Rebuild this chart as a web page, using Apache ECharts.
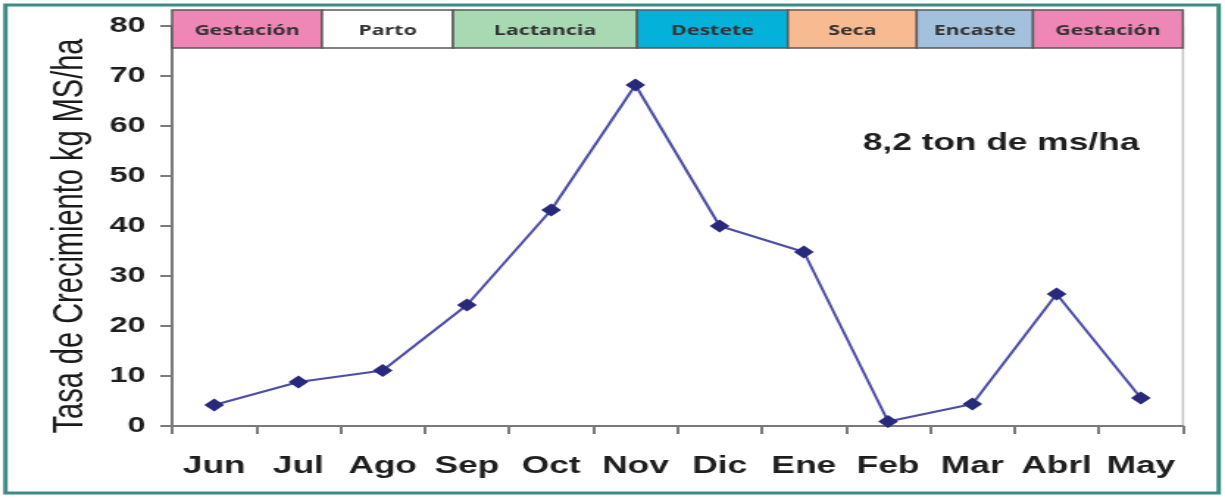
<!DOCTYPE html>
<html>
<head>
<meta charset="utf-8">
<title>Tasa de Crecimiento</title>
<script src="https://cdn.jsdelivr.net/npm/echarts@6/dist/echarts.min.js"></script>
<style>
  html, body { margin: 0; padding: 0; background: #ffffff; overflow: hidden; }
  #wrap { width: 1225px; height: 500px; overflow: hidden; }
  /* the chart is laid out narrow and widened, giving the broad lettering and wide markers */
  #chart { width: 833px; height: 500px; transform: scaleX(1.4706); transform-origin: 0 0; }
</style>
</head>
<body>
<div id="wrap"><div id="chart"></div></div>
<script>
// Months of the grazing year and growth rate (kg MS/ha/day)
const months = ['Jun', 'Jul', 'Ago', 'Sep', 'Oct', 'Nov', 'Dic', 'Ene', 'Feb', 'Mar', 'Abrl', 'May'];
const growthRate = [4.2, 8.8, 11.1, 24.2, 43.2, 68.2, 40.0, 34.8, 0.9, 4.4, 26.4, 5.6];

// Y axis ticks
const yMin = 0, yMax = 80, yStep = 10;

// Herd phases along the year, edges in months counted from the start of June
const phaseNames = ['Gestación', 'Parto', 'Lactancia', 'Destete', 'Seca', 'Encaste', 'Gestación'];
const phaseEdges = [0, 1.78, 3.335, 5.52, 7.31, 8.84, 10.22, 12];

const yTitle = 'Tasa de Crecimiento kg MS/ha';
const note = '8,2 ton de ms/ha';

// styling
const phaseColors = ['#ef87b6', '#ffffff', '#a9d9b3', '#03b1d9', '#f8bb91', '#a3c1dc', '#ef87b6'];
const FONT = '"Liberation Sans", Arial, sans-serif';
const BAND_FONT = '"Open Sans", "Liberation Sans", sans-serif';

const phaseData = phaseNames.map((n, i) => [phaseEdges[i], phaseEdges[i + 1], i]);

const chart = echarts.init(document.getElementById('chart'), null, { renderer: 'canvas' });

chart.setOption({
  backgroundColor: '#ffffff',
  animation: false,
  grid: [
    { left: 117, right: 28.6, top: 26, bottom: 74, show: true, borderColor: '#c4c4c4', borderWidth: 1.5, backgroundColor: 'transparent' },
    { left: 117, right: 28.6, top: 10, height: 38 }
  ],
  xAxis: [
    {
      type: 'category', gridIndex: 0, data: months, boundaryGap: true,
      axisLine: { show: true, lineStyle: { color: '#7a7a7a', width: 2 } },
      axisTick: { show: true, inside: false, interval: 0, length: 8, alignWithLabel: false, lineStyle: { color: '#7a7a7a', width: 2 } },
      axisLabel: { interval: 0, hideOverlap: false, fontFamily: FONT, fontSize: 24, fontWeight: 'bold', color: '#1e1e1e', margin: 28 },
      splitLine: { show: false }
    },
    { type: 'value', gridIndex: 1, min: 0, max: 12, show: false }
  ],
  yAxis: [
    {
      type: 'value', gridIndex: 0, min: yMin, max: yMax, interval: yStep,
      axisLine: { show: true, lineStyle: { color: '#7a7a7a', width: 2 } },
      axisTick: { show: true, inside: false, length: 8, lineStyle: { color: '#7a7a7a', width: 2 } },
      axisLabel: { fontFamily: FONT, fontSize: 22, fontWeight: 'bold', color: '#1e1e1e', margin: 18 },
      splitLine: { show: false }
    },
    { type: 'value', gridIndex: 1, min: 0, max: 1, show: false }
  ],
  series: [
    {
      type: 'line', xAxisIndex: 0, yAxisIndex: 0, data: growthRate,
      symbol: 'diamond', symbolSize: [13.5, 13], showAllSymbol: true,
      lineStyle: { color: '#4d4da8', width: 2 },
      itemStyle: { color: '#29297c', borderWidth: 0 },
      z: 5
    },
    {
      type: 'custom', xAxisIndex: 1, yAxisIndex: 1, data: phaseData,
      encode: { x: [0, 1] },
      z: 10,
      renderItem: function (params, api) {
        const x0 = api.coord([api.value(0), 0])[0];
        const x1 = api.coord([api.value(1), 0])[0];
        const idx = api.value(2);
        const cs = params.coordSys;
        return {
          type: 'group',
          children: [
            {
              type: 'rect',
              shape: { x: x0, y: cs.y, width: x1 - x0, height: cs.height },
              style: { fill: phaseColors[idx], stroke: '#5a5a5a', lineWidth: 1.5 }
            },
            {
              type: 'text',
              x: (x0 + x1) / 2, y: cs.y + cs.height / 2 + 1.5,
              style: {
                text: phaseNames[idx], fill: '#333333',
                font: 'bold 14.5px ' + BAND_FONT,
                align: 'center', verticalAlign: 'middle'
              }
            }
          ]
        };
      }
    }
  ],
  graphic: [
    {
      type: 'rect', silent: true, z: 0,
      shape: { x: 3.7, y: 5, width: 825, height: 488 },
      style: { fill: 'transparent', stroke: '#3c8c83', lineWidth: 3 }
    },
    {
      type: 'text', silent: true,
      x: 47.8, y: 236, rotation: Math.PI / 2,
      style: { text: yTitle, font: '29px ' + FONT, fill: '#1a1a1a', align: 'center', verticalAlign: 'middle' }
    },
    {
      type: 'text', silent: true,
      x: 680.7, y: 143,
      style: { text: note, font: 'bold 24px ' + FONT, fill: '#1e1e1e', align: 'center', verticalAlign: 'middle' }
    }
  ]
});
</script>
</body>
</html>
